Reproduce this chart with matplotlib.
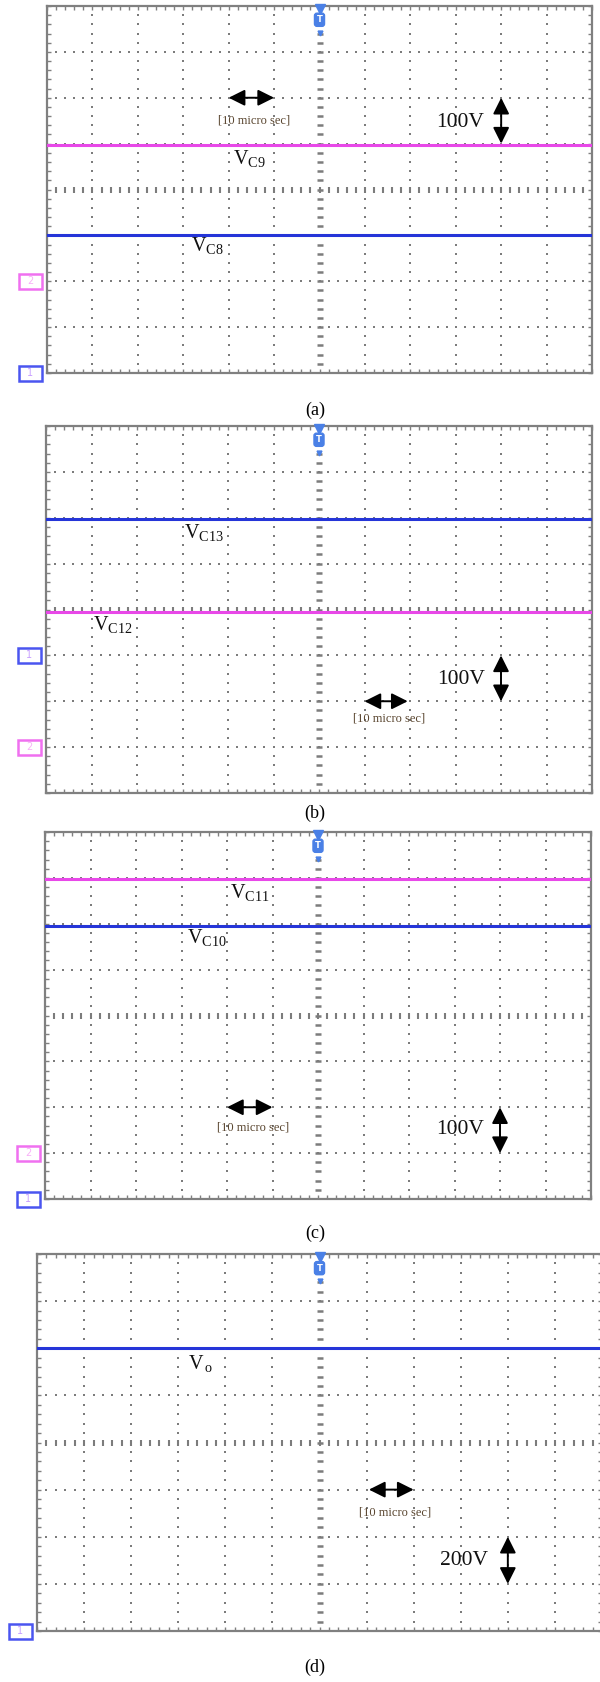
import numpy as np
import matplotlib
matplotlib.use("Agg")
import matplotlib.pyplot as plt
from matplotlib.patches import Rectangle

plt.rcParams['font.family'] = ['Liberation Serif', 'DejaVu Serif']
plt.rcParams['mathtext.fontset'] = 'custom'
plt.rcParams['mathtext.rm'] = 'Liberation Serif'
plt.rcParams['mathtext.it'] = 'Liberation Serif:italic'

# Data (levels in scope divisions, 0 = bottom of screen, 8 = top)
panel_names = ['(a)', '(b)', '(c)', '(d)']
trace_levels = [[4.97, 3.0], [5.97, 3.94], [6.98, 5.95], [6.0]]
trace_labels = [[r'V$_{\mathrm{C9}}$', r'V$_{\mathrm{C8}}$'],
                [r'V$_{\mathrm{C13}}$', r'V$_{\mathrm{C12}}$'],
                [r'V$_{\mathrm{C11}}$', r'V$_{\mathrm{C10}}$'],
                [r'V$_{\mathrm{\,o}}$']]
trace_channels = [[2, 1], [1, 2], [2, 1], [1]]
channel_offsets = [[2, 0], [3, 1], [1, 0], [0]]
volt_scale = ['100V', '100V', '100V', '200V']
time_scale = ['[10 micro sec]'] * 4

# Layout (pixels in the 600x1682 figure): left, top, width, height
W, H = 600, 1682
boxes = [(47, 6, 545, 367), (46, 426, 546, 367), (45, 832, 546, 367), (37, 1254, 565, 377)]
caption_y = [410, 813, 1233, 1667]
# label anchor (x, baseline y) in divisions
label_pos = [[(4.1, 4.55), (3.17, 2.65)],
             [(3.03, 5.56), (1.04, 3.55)],
             [(4.07, 6.56), (3.12, 5.57)],
             [(3.2, 5.56)]]
# time arrow: x0, x1, y, text x, text y
time_pos = [(4.0, 5.0, 6.0, 4.57, 5.5), (7.0, 7.95, 2.0, 7.55, 1.63),
            (4.0, 5.0, 2.0, 4.57, 1.55), (7.05, 8.0, 3.0, 7.6, 2.52)]
# volt arrow: x, y0, y1, text x, text y
volt_pos = [(10.0, 6.0, 5.0, 9.1, 5.45), (10.0, 3.0, 2.0, 9.12, 2.47),
            (10.0, 2.0, 1.0, 9.12, 1.51), (10.0, 2.0, 1.0, 9.06, 1.5)]

ch_colors = {1: '#2535d8', 2: '#e848e8'}
ch_box = {1: '#4a55f0', 2: '#f070f0'}
grid_col = '#7c7c7c'

fig = plt.figure(figsize=(W / 100, H / 100), dpi=100)

def draw_screen(ax):
	ax.set_xlim(0, 12)
	ax.set_ylim(0, 8)
	for s in ax.spines.values():
		s.set_color('#808080')
		s.set_linewidth(1.6)
	ax.set_xticks(np.arange(0, 12.01, 0.2))
	ax.set_yticks(np.arange(0, 8.01, 0.2))
	ax.tick_params(direction='in', length=3, width=1, color='#808080',
				top=True, right=True, labelbottom=False, labelleft=False)
	# dotted graticule
	sub_y = np.arange(0.2, 8, 0.2)
	sub_x = np.arange(0.2, 12, 0.2)
	for gx in range(1, 12):
		if gx == 6:
			continue
		ax.scatter(np.full_like(sub_y, gx), sub_y, s=2.8, marker='s', color=grid_col, linewidths=0)
	for gy in range(1, 8):
		if gy == 4:
			continue
		ax.scatter(sub_x, np.full_like(sub_x, gy), s=2.8, marker='s', color=grid_col, linewidths=0)
	# centre lines
	ax.plot(np.full_like(sub_y, 6), sub_y, ls='none', marker='_', ms=4, mew=1.8, color=grid_col)
	ax.plot(sub_x, np.full_like(sub_x, 4), ls='none', marker='|', ms=4.5, mew=1.5, color=grid_col)
	# trigger marker
	ax.plot(6, 7.93, marker='v', ms=7, color='#4a80e6', clip_on=False, zorder=6)
	ax.text(6, 7.7, 'T', ha='center', va='center', fontsize=6, color='white', fontweight='bold',
			family='DejaVu Sans', zorder=7,
			bbox=dict(boxstyle='round,pad=0.25,rounding_size=0.3', fc='#4a80e6', ec='#4a80e6'))
	ax.plot(6, 7.42, marker='v', ms=3.5, color='#4a80e6', zorder=6)

for i in range(4):
	l, t, w, h = boxes[i]
	ax = fig.add_axes([l / W, 1 - (t + h) / H, w / W, h / H])
	draw_screen(ax)

	# traces
	for j in range(len(trace_levels[i])):
		ch = trace_channels[i][j]
		ax.axhline(trace_levels[i][j], color=ch_colors[ch], lw=2.2, zorder=4)
		lx, ly = label_pos[i][j]
		ax.text(lx, ly, trace_labels[i][j], fontsize=14.5, color='#111111', va='baseline', ha='left', zorder=5)

	# channel markers on the left
	for j in range(len(trace_channels[i])):
		ch = trace_channels[i][j]
		yv = channel_offsets[i][j]
		bw = 23 / w
		bh = 15 / h * 8
		ax.add_patch(Rectangle((-28 / w, yv - bh / 2), bw, bh, transform=ax.get_yaxis_transform(),
							fc='white', ec=ch_box[ch], lw=1.8, clip_on=False))
		ax.text(-16.5 / w, yv, str(ch), transform=ax.get_yaxis_transform(), ha='center', va='center',
				fontsize=7, color='#c8a0ff' if ch == 1 else '#f8b0f8', family='DejaVu Sans', clip_on=False)

	# time scale arrow
	x0, x1, ya, tx, ty = time_pos[i]
	ax.annotate('', xy=(x1, ya), xytext=(x0, ya),
				arrowprops=dict(arrowstyle='<|-|>,head_length=0.7,head_width=0.35',
								color='black', lw=1.4, mutation_scale=14, shrinkA=0, shrinkB=0), zorder=6)
	ax.text(tx, ty, time_scale[i], ha='center', va='center', fontsize=9, color='#5a4630', zorder=6)

	# volt scale arrow
	vx, y0, y1, vtx, vty = volt_pos[i]
	ax.annotate('', xy=(vx, y1), xytext=(vx, y0),
				arrowprops=dict(arrowstyle='<|-|>,head_length=0.7,head_width=0.35',
								color='black', lw=1.4, mutation_scale=14, shrinkA=0, shrinkB=0), zorder=6)
	ax.text(vtx, vty, volt_scale[i], ha='center', va='center', fontsize=15.5, color='#111111', zorder=6)

	fig.text(315 / W, 1 - caption_y[i] / H, panel_names[i], ha='center', va='center', fontsize=13)

plt.savefig('out.png', dpi=100)
plt.close()
